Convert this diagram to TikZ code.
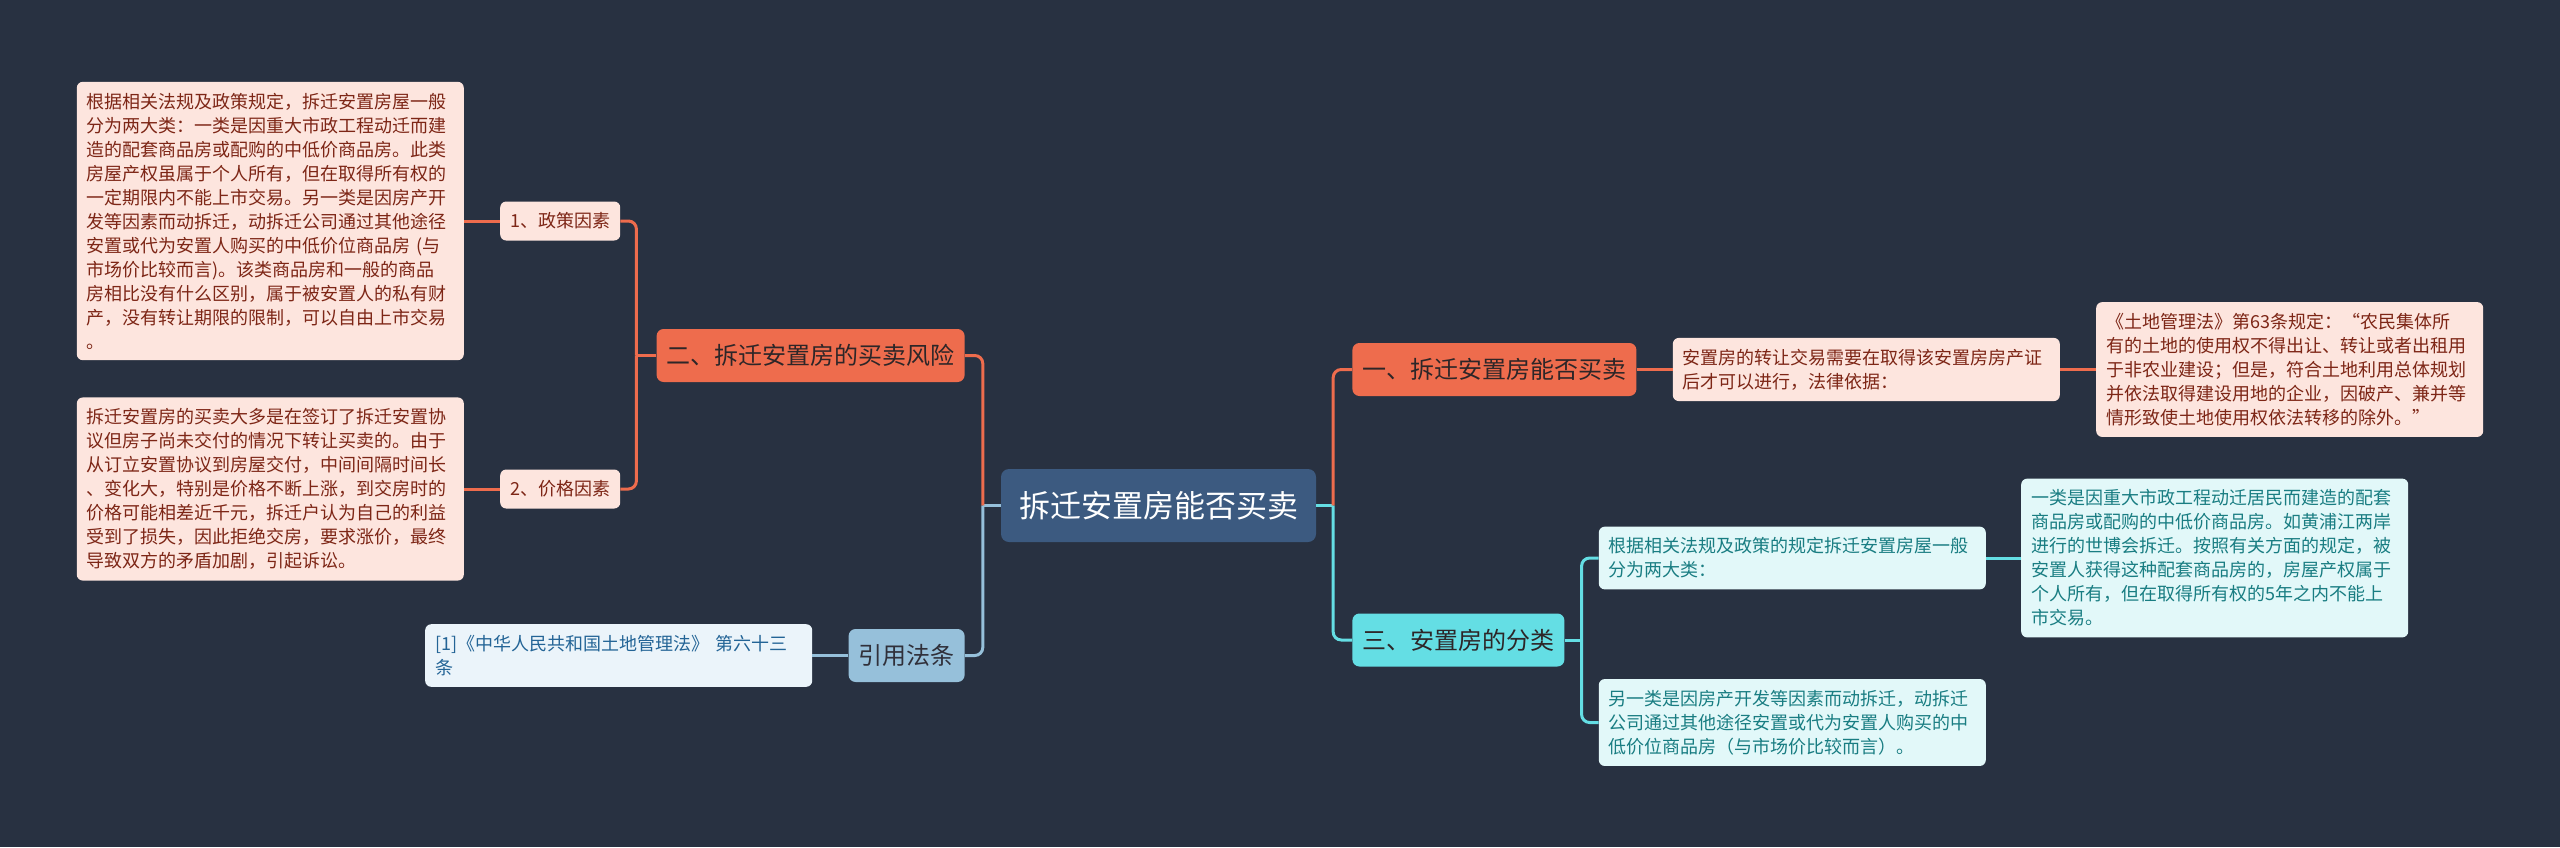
\documentclass[tikz,border=0pt]{standalone}
\usepackage{fontspec}
\setmainfont{Noto Sans CJK SC}
\usepackage{xcolor}
\usepackage{tikz}
\usetikzlibrary{positioning}
\definecolor{mmbg}{RGB}{40,49,65}
\definecolor{mmroot}{RGB}{60,90,128}
\definecolor{mmorange}{RGB}{238,108,77}
\definecolor{mmpink}{RGB}{253,229,222}
\definecolor{mmred}{RGB}{125,38,22}
\definecolor{mmdark}{RGB}{45,38,40}
\definecolor{mmblue}{RGB}{150,192,218}
\definecolor{mmpale}{RGB}{235,244,250}
\definecolor{mmbluetxt}{RGB}{35,100,150}
\definecolor{mmcyan}{RGB}{100,222,228}
\definecolor{mmaqua}{RGB}{226,248,249}
\definecolor{mmteal}{RGB}{25,125,130}

\begin{document}
\begin{tikzpicture}[x=1pt, y=-1pt,
  root/.style={rectangle, rounded corners=8pt, fill=mmroot, text=white,
               font=\fontsize{31}{36}\selectfont, inner xsep=18pt, minimum height=73pt},
  main/.style={rectangle, rounded corners=7pt, text=mmdark,
               font=\fontsize{24}{30}\selectfont, inner xsep=10pt, minimum height=53pt},
  sub/.style={rectangle, rounded corners=6pt, fill=mmpink, text=mmred,
              font=\fontsize{18}{24}\selectfont, inner xsep=10pt, minimum height=39pt},
  leaf/.style={rectangle, rounded corners=6pt, text width=367pt, align=left,
               font=\fontsize{18}{24}\selectfont, inner xsep=10pt, inner ysep=11pt},
  pinkleaf/.style={leaf, fill=mmpink, text=mmred},
  aqualeaf/.style={leaf, fill=mmaqua, text=mmteal},
  lnorange/.style={draw=mmorange, line width=3pt, rounded corners=8pt},
  lnblue/.style={draw=mmblue, line width=3pt, rounded corners=8pt},
  lncyan/.style={draw=mmcyan, line width=3pt, rounded corners=8pt},
  node distance=36pt]

\fill[mmbg] (0,0) rectangle (2560,847);
\useasboundingbox (0,0) rectangle (2560,847);

\node[root] (root) at (1158.5,505.5) {拆迁安置房能否买卖};

\node[main, fill=mmorange, left=of root, yshift=150pt] (b2) {二、拆迁安置房的买卖风险};
\node[sub, left=of b2, yshift=134.5pt] (p1) {1、政策因素};
\node[sub, left=of b2, yshift=-133.5pt] (p2) {2、价格因素};
\node[pinkleaf, left=of p1] (t1) {根据相关法规及政策规定，拆迁安置房屋一般\\
分为两大类：一类是因重大市政工程动迁而建\\
造的配套商品房或配购的中低价商品房。此类\\
房屋产权虽属于个人所有，但在取得所有权的\\
一定期限内不能上市交易。另一类是因房产开\\
发等因素而动拆迁，动拆迁公司通过其他途径\\
安置或代为安置人购买的中低价位商品房 (与\\
市场价比较而言)。该类商品房和一般的商品\\
房相比没有什么区别，属于被安置人的私有财\\
产，没有转让期限的限制，可以自由上市交易\\
。};
\node[pinkleaf, left=of p2] (t2) {拆迁安置房的买卖大多是在签订了拆迁安置协\\
议但房子尚未交付的情况下转让买卖的。由于\\
从订立安置协议到房屋交付，中间间隔时间长\\
、变化大，特别是价格不断上涨，到交房时的\\
价格可能相差近千元，拆迁户认为自己的利益\\
受到了损失，因此拒绝交房，要求涨价，最终\\
导致双方的矛盾加剧，引起诉讼。};

\node[main, fill=mmblue, text=mmdark!80!mmroot, left=of root, yshift=-150pt] (cite) {引用法条};
\node[leaf, fill=mmpale, text=mmbluetxt, left=of cite] (citetxt) {[1]《中华人民共和国土地管理法》 第六十三\\
条};

\node[main, fill=mmorange, right=of root, yshift=136pt] (b1) {一、拆迁安置房能否买卖};
\node[pinkleaf, right=of b1] (c1) {安置房的转让交易需要在取得该安置房房产证\\
后才可以进行，法律依据：};
\node[pinkleaf, right=of c1] (law) {《土地管理法》第63条规定：“农民集体所\\
有的土地的使用权不得出让、转让或者出租用\\
于非农业建设；但是，符合土地利用总体规划\\
并依法取得建设用地的企业，因破产、兼并等\\
情形致使土地使用权依法转移的除外。”};

\node[main, fill=mmcyan, right=of root, yshift=-134.5pt] (b3) {三、安置房的分类};
\node[aqualeaf, right=34pt of b3, yshift=82pt] (c31) {根据相关法规及政策的规定拆迁安置房屋一般\\
分为两大类：};
\node[aqualeaf, right=34pt of b3, yshift=-82.5pt] (c32) {另一类是因房产开发等因素而动拆迁，动拆迁\\
公司通过其他途径安置或代为安置人购买的中\\
低价位商品房（与市场价比较而言）。};
\node[aqualeaf, right=35pt of c31] (g1) {一类是因重大市政工程动迁居民而建造的配套\\
商品房或配购的中低价商品房。如黄浦江两岸\\
进行的世博会拆迁。按照有关方面的规定，被\\
安置人获得这种配套商品房的，房屋产权属于\\
个人所有，但在取得所有权的5年之内不能上\\
市交易。};

\coordinate (jl) at ([xshift=-18pt]root.west);
\coordinate (jr) at ([xshift=17pt]root.east);
\coordinate (j2) at ([xshift=-20pt]b2.west);
\coordinate (j3) at ([xshift=17pt]b3.east);

\draw[lnblue] (root.west) -- (jl);
\draw[lnorange] (jl) |- (b2.east);
\draw[lnblue] (jl) |- (cite.east);
\draw[lnorange] (b2.west) -- (j2);
\draw[lnorange] (j2) |- (p1.east);
\draw[lnorange] (j2) |- (p2.east);
\draw[lnorange] (p1) -- (t1);
\draw[lnorange] (p2) -- (t2);
\draw[lnblue] (cite) -- (citetxt);

\draw[lncyan] (root.east) -- (jr);
\draw[lnorange] (jr) |- (b1.west);
\draw[lncyan] (jr) |- (b3.west);
\draw[lnorange] (b1) -- (c1);
\draw[lnorange] (c1) -- (law);
\draw[lncyan] (b3.east) -- (j3);
\draw[lncyan] (j3) |- (c31.west);
\draw[lncyan] (j3) |- (c32.west);
\draw[lncyan] (c31) -- (g1);
\end{tikzpicture}
\end{document}
